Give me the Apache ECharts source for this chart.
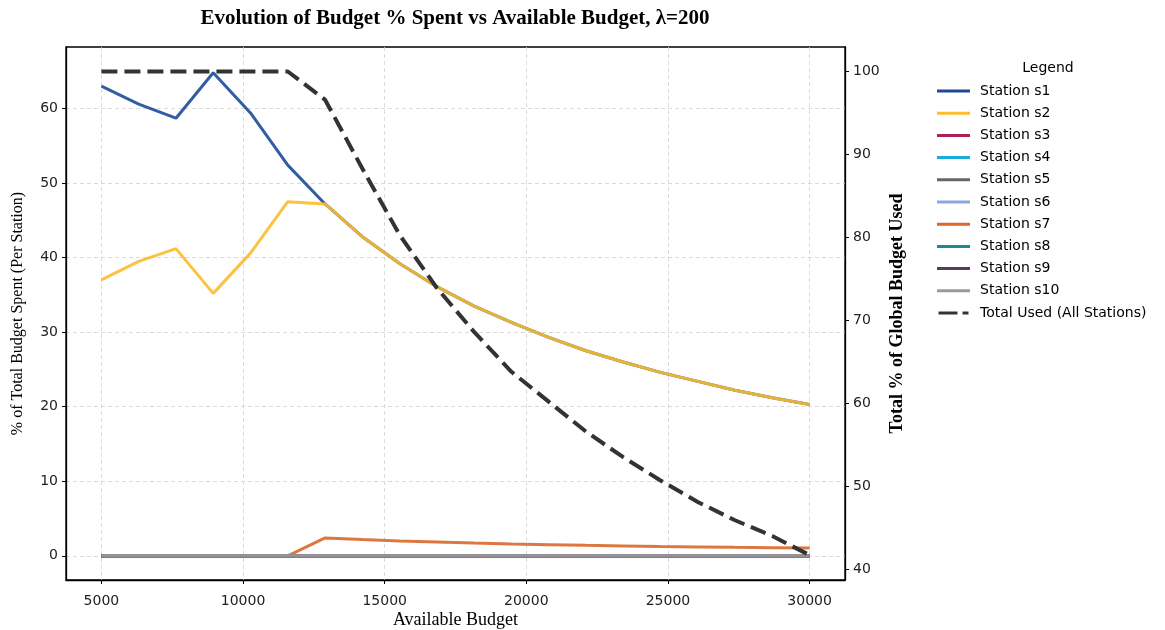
<!DOCTYPE html>
<html>
<head>
<meta charset="utf-8">
<title>Budget % Spent vs Available Budget</title>
<script src="https://cdn.jsdelivr.net/npm/echarts@6/dist/echarts.min.js"></script>
<style>
  html, body { margin: 0; padding: 0; background: #ffffff; }
  #chart { width: 1165px; height: 630px; }
</style>
</head>
<body>
<div id="chart"></div>
<script>
// Available budget levels (x axis)
const budgets = [5000, 6316, 7632, 8947, 10263, 11579, 12895, 14211, 15526, 16842,
                 18158, 19474, 20789, 22105, 23421, 24737, 26053, 27368, 28684, 30000];

// % of each station's budget spent
const s1 = [63.0, 60.6, 58.7, 64.8, 59.4, 52.4, 47.2, 42.8, 39.2, 36.1,
            33.5, 31.3, 29.3, 27.5, 26.0, 24.6, 23.4, 22.2, 21.2, 20.3];
const s2 = [37.0, 39.5, 41.2, 35.2, 40.6, 47.5, 47.2, 42.8, 39.2, 36.1,
            33.5, 31.3, 29.3, 27.5, 26.0, 24.6, 23.4, 22.2, 21.2, 20.3];
const s3 = [0, 0, 0, 0, 0, 0, 0, 0, 0, 0, 0, 0, 0, 0, 0, 0, 0, 0, 0, 0];
const s4 = [0, 0, 0, 0, 0, 0, 0, 0, 0, 0, 0, 0, 0, 0, 0, 0, 0, 0, 0, 0];
const s5 = [0, 0, 0, 0, 0, 0, 0, 0, 0, 0, 0, 0, 0, 0, 0, 0, 0, 0, 0, 0];
const s6 = [0, 0, 0, 0, 0, 0, 0, 0, 0, 0, 0, 0, 0, 0, 0, 0, 0, 0, 0, 0];
const s7 = [0, 0, 0, 0, 0, 0, 2.40, 2.18, 1.99, 1.84,
            1.70, 1.59, 1.49, 1.40, 1.32, 1.25, 1.19, 1.13, 1.08, 1.03];
const s8 = [0, 0, 0, 0, 0, 0, 0, 0, 0, 0, 0, 0, 0, 0, 0, 0, 0, 0, 0, 0];
const s9 = [0, 0, 0, 0, 0, 0, 0, 0, 0, 0, 0, 0, 0, 0, 0, 0, 0, 0, 0, 0];
const s10 = [0, 0, 0, 0, 0, 0, 0, 0, 0, 0, 0, 0, 0, 0, 0, 0, 0, 0, 0, 0];

// Total % of the global budget used (right axis)
const totalUsed = [100, 100, 100, 100, 100, 100, 96.6, 88.3, 80.3, 73.9,
                   68.6, 63.8, 60.2, 56.6, 53.5, 50.7, 48.1, 45.9, 44.0, 41.7];

// Tick values
const xTicks = [5000, 10000, 15000, 20000, 25000, 30000];
const leftTicks = [0, 10, 20, 30, 40, 50, 60];
const rightTicks = [40, 50, 60, 70, 80, 90, 100];

const stationNames = ['Station s1', 'Station s2', 'Station s3', 'Station s4', 'Station s5',
                      'Station s6', 'Station s7', 'Station s8', 'Station s9', 'Station s10'];
const stationValues = [s1, s2, s3, s4, s5, s6, s7, s8, s9, s10];
const stationColors = ['#1b4b98', '#fbbd2c', '#a8235a', '#1aabe3', '#666666',
                       '#8aa8e0', '#d9682a', '#1c8a8f', '#5b3a5e', '#9a9a9a'];
const totalName = 'Total Used (All Stations)';

const pairs = (vals) => budgets.map((b, i) => [b, vals[i]]);

const serifFont = '"Liberation Serif", "Times New Roman", serif';
const sansFont = '"DejaVu Sans", sans-serif';

// legend glyphs: a solid bar for stations, a long + short dash for the total
const solidIcon = 'rect';
const dashIcon = 'path://M0,0H19V3H0Z M24,0H30V3H24Z';

const series = stationNames.map((name, k) => ({
  name: name,
  type: 'line',
  yAxisIndex: 0,
  data: pairs(stationValues[k]),
  symbol: 'none',
  showSymbol: false,
  color: stationColors[k],
  lineStyle: { width: k >= 2 && k !== 6 ? 3.6 : 3, color: stationColors[k], opacity: 0.9 },
  itemStyle: { color: stationColors[k] },
  emphasis: { disabled: true },
  animation: false
}));

series.push({
  name: totalName,
  type: 'line',
  yAxisIndex: 1,
  data: pairs(totalUsed),
  symbol: 'none',
  showSymbol: false,
  color: '#333333',
  lineStyle: { width: 4, color: '#333333', type: [16, 7] },
  itemStyle: { color: '#333333' },
  emphasis: { disabled: true },
  animation: false
});

const legendData = stationNames.map((n) => ({ name: n, icon: solidIcon }))
  .concat([{ name: totalName, icon: dashIcon }]);

const chart = echarts.init(document.getElementById('chart'), null, { renderer: 'canvas' });

chart.setOption({
  animation: false,
  backgroundColor: '#ffffff',
  graphic: [
    {
      type: 'text',
      x: 455, y: 19,
      style: {
        text: 'Evolution of Budget % Spent vs Available Budget, λ=200',
        font: 'bold 21px ' + serifFont,
        fill: '#000000',
        textAlign: 'center',
        textVerticalAlign: 'middle'
      }
    },
    {
      type: 'text',
      x: 1048, y: 68,
      style: {
        text: 'Legend',
        font: '14px ' + sansFont,
        fill: '#000000',
        textAlign: 'center',
        textVerticalAlign: 'middle'
      }
    }
  ],
  legend: {
    orient: 'vertical',
    left: 937,
    top: 84,
    padding: 0,
    itemWidth: 33,
    itemHeight: 3,
    itemGap: 8.2,
    selectedMode: false,
    textStyle: { fontFamily: sansFont, fontSize: 14, lineHeight: 14, color: '#000000', padding: [0, 0, 0, 5] },
    data: legendData
  },
  grid: {
    left: 66, right: 320, top: 47, bottom: 50,
    outerBoundsMode: 'none',
    containLabel: false,
    show: true,
    borderColor: '#000000',
    borderWidth: 1.3,
    backgroundColor: 'transparent'
  },
  xAxis: {
    type: 'value',
    min: 3750,
    max: 31250,
    name: 'Available Budget',
    nameLocation: 'middle',
    nameMoveOverlap: false,
    nameGap: 31,
    nameTextStyle: { fontFamily: serifFont, fontSize: 18, color: '#000000' },
    axisLine: { show: true, onZero: false, lineStyle: { color: '#000000', width: 1.3 } },
    axisTick: { show: true, length: 4, customValues: xTicks, lineStyle: { color: '#000000' } },
    axisLabel: {
      customValues: xTicks,
      margin: 14,
      formatter: (v) => String(v),
      fontFamily: sansFont, fontSize: 14, color: '#222222'
    },
    splitLine: { show: true, lineStyle: { color: '#d0d0d0', type: [4, 3], width: 0.8 } }
  },
  yAxis: [
    {
      type: 'value',
      min: -3.25,
      max: 68.25,
      position: 'left',
      name: '% of Total Budget Spent (Per Station)',
      nameLocation: 'middle',
      nameMoveOverlap: false,
      nameGap: 40,
      nameTextStyle: { fontFamily: serifFont, fontSize: 16, color: '#000000' },
      axisLine: { show: true, onZero: false, lineStyle: { color: '#000000', width: 1.3 } },
      axisTick: { show: true, length: 4, customValues: leftTicks, lineStyle: { color: '#000000' } },
      axisLabel: {
        customValues: leftTicks,
        margin: 8,
        fontFamily: sansFont, fontSize: 14, color: '#222222'
      },
      splitLine: { show: true, lineStyle: { color: '#d0d0d0', type: [4, 3], width: 0.8 } }
    },
    {
      type: 'value',
      min: 38.7,
      max: 102.95,
      position: 'right',
      name: 'Total % of Global Budget Used',
      nameLocation: 'middle',
      nameMoveOverlap: false,
      nameGap: 43,
      nameTextStyle: { fontFamily: serifFont, fontSize: 18, fontWeight: 'bold', color: '#000000' },
      axisLine: { show: true, onZero: false, lineStyle: { color: '#000000', width: 1.3 } },
      axisTick: { show: true, length: 4, customValues: rightTicks, lineStyle: { color: '#000000' } },
      axisLabel: {
        customValues: rightTicks,
        margin: 8,
        fontFamily: sansFont, fontSize: 14, color: '#222222'
      },
      splitLine: { show: false }
    }
  ],
  series: series
});
</script>
</body>
</html>
